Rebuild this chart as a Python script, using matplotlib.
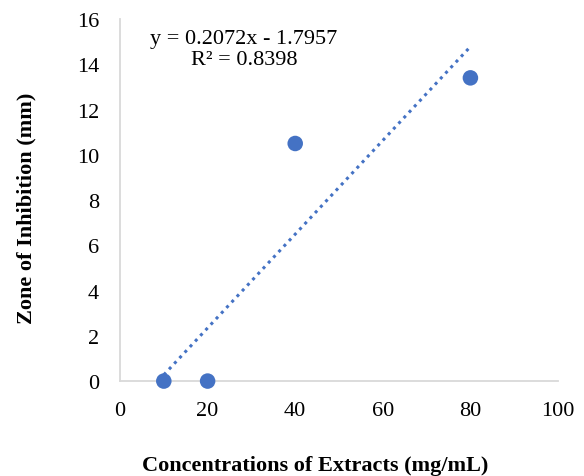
import matplotlib.pyplot as plt
import numpy as np

plt.rcParams['font.family'] = ['Liberation Serif', 'DejaVu Serif']

# data
conc = [10, 20, 40, 80]
zone = [0, 0, 10.5, 13.4]
slope, intercept = 0.2072, -1.7957

fig = plt.figure(figsize=(5.84, 4.77), dpi=100)
ax = fig.add_axes([0.2055, 0.199, 0.75, 0.759])

ax.scatter(conc, zone, s=125, color='#4472C4', zorder=3, edgecolors='none', clip_on=False)

# linear trendline from first to last x
tx = np.array([min(conc), max(conc)])
ax.plot(tx, slope * tx + intercept, color='#4472C4', linestyle=(0, (1, 1.5)), linewidth=2.2)

ax.set_xlim(0, 100)
ax.set_ylim(0, 16)
ax.set_xticks(range(0, 101, 20))
ax.set_yticks(range(0, 17, 2))
ax.tick_params(axis='x', length=0, labelsize=16, pad=14)
ax.tick_params(axis='y', length=0, labelsize=16, pad=15)

for s in ['top', 'right']:
    ax.spines[s].set_visible(False)
for s in ['left', 'bottom']:
    ax.spines[s].set_color('#d9d9d9')
    ax.spines[s].set_linewidth(1.3)

ax.set_xlabel('Concentrations of Extracts (mg/mL)', fontsize=16, fontweight='bold')
ax.set_ylabel('Zone of Inhibition (mm)', fontsize=16, fontweight='bold')
ax.yaxis.set_label_coords(-0.19, 0.48)
ax.xaxis.set_label_coords(0.445, -0.205)

ax.text(28.3, 14.68, 'y = 0.2072x - 1.7957\nR² = 0.8398', ha='center', va='center',
        fontsize=16, linespacing=1.15)

plt.savefig('out.png', dpi=100)
